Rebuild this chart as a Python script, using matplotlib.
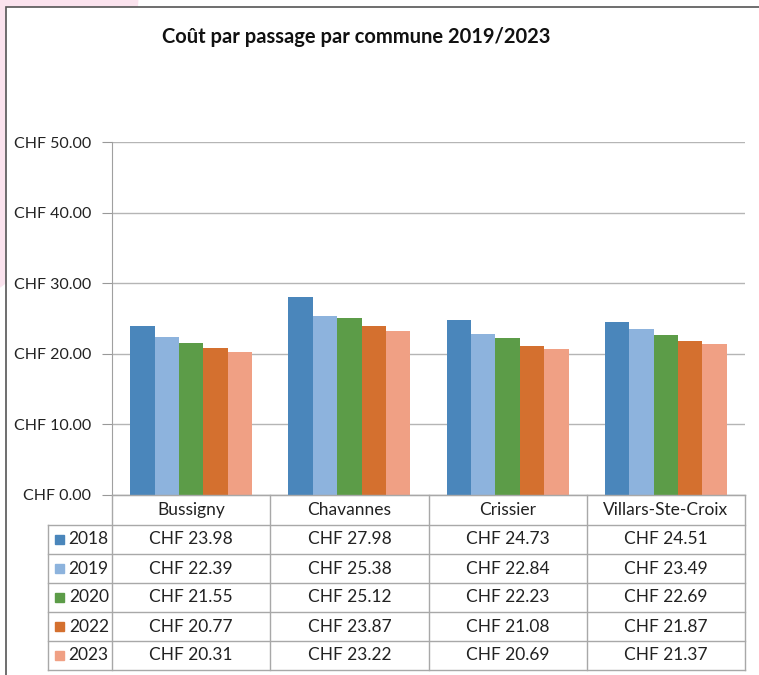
import matplotlib
matplotlib.use("Agg")
import matplotlib.pyplot as plt
from matplotlib.patches import Ellipse, Rectangle
from matplotlib.lines import Line2D

plt.rcParams['font.family'] = ['Lato', 'DejaVu Sans']

communes = ["Bussigny", "Chavannes", "Crissier", "Villars-Ste-Croix"]
years = ["2018", "2019", "2020", "2022", "2023"]
v2018 = [23.98, 27.98, 24.73, 24.51]
v2019 = [22.39, 25.38, 22.84, 23.49]
v2020 = [21.55, 25.12, 22.23, 22.69]
v2022 = [20.77, 23.87, 21.08, 21.87]
v2023 = [20.31, 23.22, 20.69, 21.37]
series = [v2018, v2019, v2020, v2022, v2023]
colors = ["#4a86bb", "#8db3dd", "#5c9c48", "#d4702f", "#f0a084"]
yticks = [0, 10, 20, 30, 40, 50]

W, H = 759, 675
fig = plt.figure(figsize=(W / 100, H / 100), dpi=100)
fig.patch.set_facecolor("white")


def box(x0, y0, x1, y1):
    # pixel box -> figure fraction rect
    return [x0 / W, 1 - y1 / H, (x1 - x0) / W, (y1 - y0) / H]


# background decoration and chart frame
bg = fig.add_axes([0, 0, 1, 1])
bg.set_xlim(0, W)
bg.set_ylim(H, 0)
bg.axis("off")
bg.add_patch(Ellipse((-110, -40), 500, 730, color="#fbe3ee", lw=0))
bg.add_patch(Rectangle((6, 7), W, H, facecolor="white", edgecolor="#555555", lw=1.2))

fig.text(356 / W, 1 - 37 / H, "Coût par passage par commune 2019/2023",
         ha="center", va="center", fontsize=14.5, fontweight="bold", color="#111111")

# bar chart
ax = fig.add_axes(box(112, 142, 745, 495))
n = len(series)
w = 0.154
for j, (vals, col) in enumerate(zip(series, colors)):
    xs = [i + (j - (n - 1) / 2) * w for i in range(len(communes))]
    ax.bar(xs, vals, width=w, color=col, zorder=3)

ax.set_xlim(-0.5, len(communes) - 0.5)
ax.set_ylim(0, 50)
ax.set_yticks(yticks)
ax.set_yticklabels([f"CHF {t:.2f}" for t in yticks], fontsize=11.5, color="#222222")
ax.set_xticks([])
ax.grid(axis="y", color="#b5b5b5", lw=1, zorder=0)
ax.tick_params(axis="y", length=7, color="#999999", pad=8)
for s in ["top", "right"]:
    ax.spines[s].set_visible(False)
ax.spines["left"].set_color("#a0a0a0")
ax.spines["bottom"].set_color("#a0a0a0")
ax.patch.set_alpha(0)

# data table under the chart
tb = fig.add_axes(box(112, 495, 745, 670))
tb.set_xlim(-0.5, len(communes) - 0.5)
tb.set_ylim(175, 0)
tb.axis("off")
tb.patch.set_alpha(0)
lc = "#a8a8a8"
hdr = 30
rh = 29
left = -0.5 - 64 / 158.25
# vertical lines
for k in range(len(communes) + 1):
    tb.add_line(Line2D([k - 0.5, k - 0.5], [0, 175], color=lc, lw=1, clip_on=False))
tb.add_line(Line2D([left, left], [hdr, 175], color=lc, lw=1, clip_on=False))
# horizontal lines
tb.add_line(Line2D([-0.5, 3.5], [0, 0], color=lc, lw=1, clip_on=False))
for r in range(n + 1):
    y = hdr + r * rh
    tb.add_line(Line2D([left, 3.5], [y, y], color=lc, lw=1, clip_on=False))

for i, c in enumerate(communes):
    tb.text(i, hdr / 2, c, ha="center", va="center", fontsize=12.5, color="#222222")
for r, (yr, vals, col) in enumerate(zip(years, series, colors)):
    yc = hdr + r * rh + rh / 2
    tb.add_patch(Rectangle((left + 0.045, yc - 4.5), 0.058, 9, color=col, clip_on=False))
    tb.text(-0.52, yc, yr, ha="right", va="center", fontsize=12.5, color="#222222")
    for i, v in enumerate(vals):
        tb.text(i, yc, f"CHF {v:.2f}", ha="center", va="center", fontsize=12.5, color="#222222")

fig.savefig("out.png", dpi=100)
